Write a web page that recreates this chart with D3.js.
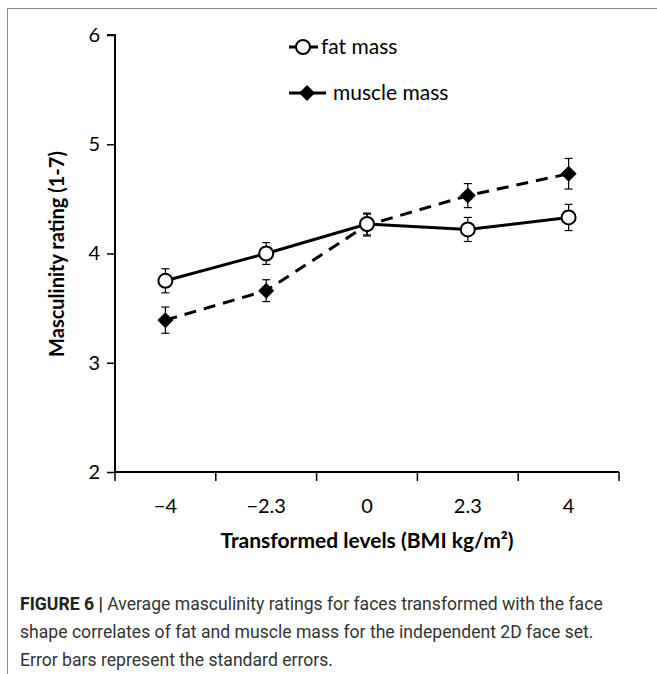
<!DOCTYPE html>
<html>
<head>
<meta charset="utf-8">
<script src="https://cdn.jsdelivr.net/npm/d3@7"></script>
<style>
  html, body { margin: 0; padding: 0; background: #fff; }
  svg { display: block; }
</style>
</head>
<body>
<svg id="chart" width="657" height="674"></svg>
<script>
// ---- data ----
const categories = ["\u22124", "\u22122.3", "0", "2.3", "4"];
const fatMass = [3.75, 4.00, 4.27, 4.22, 4.33];
const fatErr = [0.11, 0.10, 0.10, 0.11, 0.12];
const muscleMass = [3.39, 3.66, 4.26, 4.53, 4.73];
const muscleErr = [0.12, 0.10, 0.10, 0.11, 0.14];
const yTicks = [2, 3, 4, 5, 6];
const seriesNames = ["fat mass", "muscle mass"];
const xTitle = "Transformed levels (BMI kg/m\u00B2)";
const yTitle = "Masculinity rating (1-7)";
const captionBold = "FIGURE 6 |";
const captionLines = [
  " Average masculinity ratings for faces transformed with the face",
  "shape correlates of fat and muscle mass for the independent 2D face set.",
  "Error bars represent the standard errors."
];

const svg = d3.select("#chart");
const chartFont = "Lato, 'Open Sans', sans-serif";

// frame
svg.append("rect").attr("x", 7.5).attr("y", 8.5).attr("width", 670).attr("height", 700)
  .attr("fill", "none").attr("stroke", "#8a8a8a").attr("stroke-width", 1);

const x = d3.scaleBand().domain(categories).range([115, 619]).padding(0);
const y = d3.scaleLinear().domain([2, 6]).range([472, 35]);

// y axis
const yAxis = svg.append("g").attr("transform", "translate(115,0)")
  .call(d3.axisLeft(y).tickValues(yTicks).tickSize(8).tickPadding(7).tickFormat(d3.format("d")));
yAxis.select(".domain").attr("d", `M-8,${y(6)}H0V${y(2)}`).attr("stroke", "#000").attr("stroke-width", 2);
yAxis.selectAll(".tick line").attr("stroke", "#000").attr("stroke-width", 1.5);
yAxis.selectAll(".tick text").attr("font-family", chartFont).attr("font-size", 20).attr("fill", "#000");

// x axis
const xg = svg.append("g").attr("transform", `translate(0,${y(2)})`);
xg.append("line").attr("x1", x.range()[0]).attr("x2", x.range()[1]).attr("y1", 0).attr("y2", 0)
  .attr("stroke", "#000").attr("stroke-width", 2);
const bounds = categories.map(c => x(c)).concat([x.range()[1]]);
xg.selectAll("line.tk").data(bounds).join("line").attr("class", "tk")
  .attr("x1", d => d).attr("x2", d => d).attr("y1", 0).attr("y2", 9)
  .attr("stroke", "#000").attr("stroke-width", 1.5);
xg.selectAll("text").data(categories).join("text")
  .attr("x", d => x(d) + x.bandwidth() / 2).attr("y", 41)
  .attr("text-anchor", "middle").attr("font-family", chartFont).attr("font-size", 20).attr("fill", "#000")
  .text(d => d);

// axis titles
svg.append("text").attr("x", 367).attr("y", 548).attr("text-anchor", "middle")
  .attr("font-family", chartFont).attr("font-weight", "bold").attr("font-size", 21).attr("fill", "#000")
  .text(xTitle);
svg.append("text").attr("transform", "translate(64,254) rotate(-90)").attr("text-anchor", "middle")
  .attr("font-family", chartFont).attr("font-weight", "bold").attr("font-size", 20).attr("fill", "#000")
  .text(yTitle);

const cx = c => x(c) + x.bandwidth() / 2;

// lines
const line = d3.line().x(d => cx(d.c)).y(d => y(d.v));
const fatData = categories.map((c, i) => ({ c, v: fatMass[i], e: fatErr[i] }));
const musData = categories.map((c, i) => ({ c, v: muscleMass[i], e: muscleErr[i] }));

svg.append("path").datum(fatData).attr("d", line).attr("fill", "none")
  .attr("stroke", "#000").attr("stroke-width", 3);
svg.append("path").datum(musData).attr("d", line).attr("fill", "none")
  .attr("stroke", "#000").attr("stroke-width", 3).attr("stroke-dasharray", "12,8");

// error bars
function errBars(data) {
  const g = svg.append("g").attr("stroke", "#000").attr("stroke-width", 1.2);
  data.forEach(d => {
    const X = cx(d.c);
    g.append("line").attr("x1", X).attr("x2", X).attr("y1", y(d.v + d.e)).attr("y2", y(d.v - d.e));
    g.append("line").attr("x1", X - 4).attr("x2", X + 4).attr("y1", y(d.v + d.e)).attr("y2", y(d.v + d.e));
    g.append("line").attr("x1", X - 4).attr("x2", X + 4).attr("y1", y(d.v - d.e)).attr("y2", y(d.v - d.e));
  });
}
errBars(fatData);
errBars(musData);

// markers
function drawDiamond(sel, X, Y) {
  sel.append("path").attr("d", "M0,-8L8,0L0,8L-8,0Z").attr("transform", `translate(${X},${Y})`)
    .attr("fill", "#000");
}
musData.forEach(d => drawDiamond(svg, cx(d.c), y(d.v)));
svg.selectAll("circle.fat").data(fatData).join("circle").attr("class", "fat")
  .attr("cx", d => cx(d.c)).attr("cy", d => y(d.v)).attr("r", 7)
  .attr("fill", "#fff").attr("stroke", "#000").attr("stroke-width", 2);

// legend
const lg = svg.append("g");
lg.append("line").attr("x1", 289).attr("x2", 318).attr("y1", 47).attr("y2", 47).attr("stroke", "#000").attr("stroke-width", 3);
lg.append("circle").attr("cx", 303).attr("cy", 47).attr("r", 7).attr("fill", "#fff").attr("stroke", "#000").attr("stroke-width", 2);
lg.append("text").attr("x", 321).attr("y", 54).attr("font-family", chartFont).attr("font-size", 21).text(seriesNames[0]);
lg.append("line").attr("x1", 289).attr("x2", 326).attr("y1", 93).attr("y2", 93).attr("stroke", "#000").attr("stroke-width", 3);
drawDiamond(lg, 307, 93);
lg.append("text").attr("x", 333).attr("y", 100).attr("font-family", chartFont).attr("font-size", 21).text(seriesNames[1]);

// caption
const capFont = "'Roboto', 'Liberation Sans', sans-serif";
const capY = [610, 638, 666];
const capSize = 17.6;
const t0 = svg.append("text").attr("x", 20).attr("y", capY[0]).attr("font-family", capFont)
  .attr("font-size", capSize).attr("fill", "#333");
t0.append("tspan").attr("font-weight", "bold").attr("fill", "#222").text(captionBold);
t0.append("tspan").text(captionLines[0]);
svg.append("text").attr("x", 20).attr("y", capY[1]).attr("font-family", capFont)
  .attr("font-size", capSize).attr("fill", "#333").text(captionLines[1]);
svg.append("text").attr("x", 20).attr("y", capY[2]).attr("font-family", capFont)
  .attr("font-size", capSize).attr("fill", "#333").text(captionLines[2]);
</script>
</body>
</html>
